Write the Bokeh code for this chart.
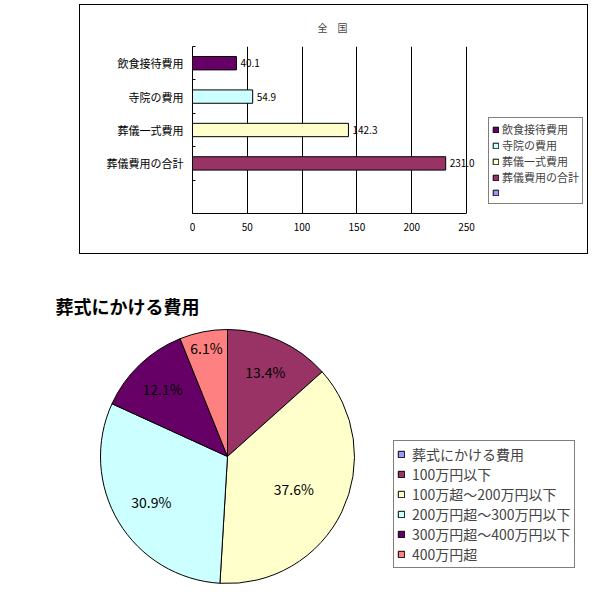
import numpy as np
from bokeh.plotting import figure
from bokeh.models import (Range1d, FixedTicker, ColumnDataSource, LabelSet,
                          Legend, LegendItem, Label)
from bokeh.embed import file_html
from bokeh.resources import INLINE
from bokeh.core.properties import value

# ---------------- data ----------------
bar_title = "全　国"
bar_categories = ["飲食接待費用", "寺院の費用", "葬儀一式費用", "葬儀費用の合計"]
bar_values = [40.1, 54.9, 142.3, 231.0]
bar_colors = ["#660066", "#CCFFFF", "#FFFFCC", "#993366"]
x_ticks = [0, 50, 100, 150, 200, 250]

pie_title = "葬式にかける費用"
pie_categories = ["100万円以下", "100万超～200万円以下", "200万円超～300万円以下",
                  "300万円超～400万円以下", "400万円超"]
pie_values = [13.4, 37.6, 30.9, 12.1, 6.1]
pie_colors = ["#993366", "#FFFFCC", "#CCFFFF", "#660066", "#FF8080"]
series_color = "#9999FF"

# ---------------- styles / layout ----------------
FONT = "Noto Sans CJK JP"
label_radius = [0.73, 0.58, 0.70, 0.74, 0.87]   # radial placement of pie labels

W1, H1 = 507, 248          # inner size of the boxed bar chart
LEFT1, TOP1, BOTTOM1 = 112, 39, 40
PLOT_W1 = 274              # pixel width of the 0..250 value axis

# ---------------- top chart ----------------
n_slots = len(bar_categories) + 1
ypos = [n_slots - 0.5 - i for i in range(len(bar_categories))]
src = ColumnDataSource(dict(y=ypos, right=bar_values, color=bar_colors,
                            label=[f"{v:.1f}" for v in bar_values],
                            name=bar_categories))

x_max = x_ticks[-1]
x_end = x_max * (W1 - LEFT1) / PLOT_W1
p1 = figure(width=W1, height=H1, x_range=Range1d(0, x_end),
            y_range=Range1d(0, n_slots), output_backend="svg",
            toolbar_location=None, min_border_left=LEFT1, min_border_right=0,
            min_border_top=TOP1, min_border_bottom=BOTTOM1,
            margin=(5, 0, 1, 80),
            styles={"outline": "1px solid black", "outline-offset": "0px"})
p1.outline_line_color = None
p1.background_fill_color = "white"
p1.border_fill_color = "white"

p1.title.text = bar_title
p1.title.align = "left"
p1.title.offset = 125
p1.title.text_font = FONT
p1.title.text_font_size = "10px"
p1.title.text_font_style = "normal"
p1.title.standoff = 24

bars = p1.hbar(y="y", right="right", height=0.4, fill_color="color",
               line_color="black", line_width=1, source=src)
# legend-only series (no visible bar)
dummy1 = p1.hbar(y=[-10], right=[1], height=0.4, fill_color=series_color,
                 line_color="black")

p1.add_layout(LabelSet(x="right", y="y", text="label", x_offset=4,
                       text_baseline="middle", text_font=value(FONT),
                       text_font_size="10px", text_color="black", source=src))

xa = p1.xaxis[0]
xa.ticker = FixedTicker(ticks=x_ticks)
xa.bounds = (0, x_max)
xa.major_tick_in = 0
xa.major_tick_out = 0
xa.minor_tick_in = 0
xa.minor_tick_out = 0
xa.major_label_standoff = 9
xa.major_label_text_font = FONT
xa.major_label_text_font_size = "10px"
xa.major_label_text_color = "black"
xa.axis_line_color = "black"

ya = p1.yaxis[0]
ya.ticker = FixedTicker(ticks=ypos, minor_ticks=list(range(n_slots + 1)))
ya.major_label_overrides = {y: n for y, n in zip(ypos, bar_categories)}
ya.major_tick_in = 0
ya.major_tick_out = 0
ya.minor_tick_in = 3
ya.minor_tick_out = 0
ya.major_label_standoff = 9
ya.major_label_text_font = FONT
ya.major_label_text_font_size = "11px"
ya.major_label_text_color = "black"
ya.axis_line_color = "black"

p1.xgrid.grid_line_color = "black"
p1.ygrid.grid_line_color = None

items1 = [LegendItem(label=n, renderers=[bars], index=i)
          for i, n in enumerate(bar_categories)]
items1.append(LegendItem(label=" ", renderers=[dummy1]))
leg1 = Legend(items=items1, location=(296, 9), glyph_width=7, glyph_height=7,
              label_height=15, label_standoff=3, spacing=0, padding=3, margin=0,
              label_text_font=FONT, label_text_font_size="11px",
              border_line_color="black", border_line_width=1,
              background_fill_color="white", background_fill_alpha=1.0)
p1.add_layout(leg1, "center")

# ---------------- bottom chart ----------------
W2, H2 = 600, 338
CX, CY, R = 227, 136, 127
p2 = figure(width=W2, height=H2, x_range=Range1d(0, W2), y_range=Range1d(0, H2),
            x_axis_type=None, y_axis_type=None, output_backend="svg",
            toolbar_location=None, min_border=0)
p2.outline_line_color = None
p2.xgrid.visible = False
p2.ygrid.visible = False

vals = np.array(pie_values, dtype=float)
frac = vals / vals.sum()
cum_end = np.cumsum(frac)
cum_start = cum_end - frac
start = np.pi / 2 - 2 * np.pi * cum_start
end = np.pi / 2 - 2 * np.pi * cum_end
mid = np.pi / 2 - 2 * np.pi * (cum_start + frac / 2)
k = np.array(label_radius)
psrc = ColumnDataSource(dict(start=start, end=end, color=pie_colors,
                             lx=CX + R * k * np.cos(mid),
                             ly=CY + R * k * np.sin(mid),
                             txt=[f"{v:.1f}%" for v in pie_values]))

wedges = p2.wedge(x=CX, y=CY, radius=R, start_angle="start", end_angle="end",
                  direction="clock", fill_color="color", line_color="black",
                  line_width=1, source=psrc)
# legend-only series (kept outside the visible range)
dummy2 = p2.quad(left=[-20], right=[-10], top=[-10], bottom=[-20],
                 fill_color=series_color, line_color="black")

p2.add_layout(LabelSet(x="lx", y="ly", text="txt", text_align="center",
                       text_baseline="middle", text_font=value(FONT),
                       text_font_size="14px", text_color="black", source=psrc))

p2.add_layout(Label(x=55, y=287, text=pie_title, text_font=FONT,
                    text_font_size="18px", text_font_style="bold",
                    text_baseline="middle", text_align="left",
                    text_color="black"))

items2 = [LegendItem(label=pie_title, renderers=[dummy2])]
items2 += [LegendItem(label=n, renderers=[wedges], index=i)
           for i, n in enumerate(pie_categories)]
leg2 = Legend(items=items2, location=(393, 24), glyph_width=8, glyph_height=8,
              label_height=19, label_standoff=7, spacing=0, padding=3, margin=0,
              label_text_font=FONT, label_text_font_size="14px",
              border_line_color="black", border_line_width=1,
              background_fill_color="white", background_fill_alpha=1.0)
p2.add_layout(leg2, "center")

open("out.html", "w").write(file_html([p1, p2], INLINE, title="chart"))
